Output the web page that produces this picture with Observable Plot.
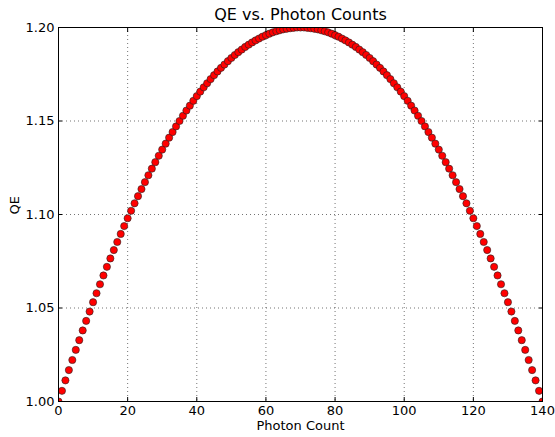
<!DOCTYPE html>
<html>
<head>
<meta charset="utf-8">
<script src="https://cdn.jsdelivr.net/npm/d3@7"></script>
<script src="https://cdn.jsdelivr.net/npm/@observablehq/plot@0.6"></script>
<style>
  html, body { margin: 0; padding: 0; background: #fff; }
  #chart { width: 555px; height: 437px; }
  svg { font-family: "DejaVu Sans", sans-serif; }
</style>
</head>
<body>
<div id="chart"></div>
<script>
const titleText = "QE vs. Photon Counts";
const xLabel = "Photon Count";
const yLabel = "QE";
const xTicks = [0, 20, 40, 60, 80, 100, 120, 140];
const yTicks = [1.00, 1.05, 1.10, 1.15, 1.20];

const photonCounts = [
  0,1,2,3,4,5,6,7,8,9,10,11,12,13,14,15,16,17,18,19,20,
  21,22,23,24,25,26,27,28,29,30,31,32,33,34,35,36,37,38,39,40,
  41,42,43,44,45,46,47,48,49,50,51,52,53,54,55,56,57,58,59,60,
  61,62,63,64,65,66,67,68,69,70,71,72,73,74,75,76,77,78,79,80,
  81,82,83,84,85,86,87,88,89,90,91,92,93,94,95,96,97,98,99,100,
  101,102,103,104,105,106,107,108,109,110,111,112,113,114,115,116,117,118,119,120,
  121,122,123,124,125,126,127,128,129,130,131,132,133,134,135,136,137,138,139,140
];
const qeValues = [
  1.0000,1.0057,1.0113,1.0168,1.0222,1.0276,1.0328,1.0380,1.0431,1.0481,1.0531,
  1.0579,1.0627,1.0674,1.0720,1.0765,1.0810,1.0853,1.0896,1.0938,1.0980,
  1.1020,1.1060,1.1098,1.1136,1.1173,1.1210,1.1245,1.1280,1.1314,1.1347,
  1.1379,1.1411,1.1441,1.1471,1.1500,1.1528,1.1556,1.1582,1.1608,1.1633,
  1.1657,1.1680,1.1702,1.1724,1.1745,1.1765,1.1784,1.1802,1.1820,1.1837,
  1.1853,1.1868,1.1882,1.1896,1.1908,1.1920,1.1931,1.1941,1.1951,1.1959,
  1.1967,1.1974,1.1980,1.1985,1.1990,1.1993,1.1996,1.1998,1.2000,1.2000,
  1.2000,1.1998,1.1996,1.1993,1.1990,1.1985,1.1980,1.1974,1.1967,1.1959,
  1.1951,1.1941,1.1931,1.1920,1.1908,1.1896,1.1882,1.1868,1.1853,1.1837,
  1.1820,1.1802,1.1784,1.1765,1.1745,1.1724,1.1702,1.1680,1.1657,1.1633,
  1.1608,1.1582,1.1556,1.1528,1.1500,1.1471,1.1441,1.1411,1.1379,1.1347,
  1.1314,1.1280,1.1245,1.1210,1.1173,1.1136,1.1098,1.1060,1.1020,1.0980,
  1.0938,1.0896,1.0853,1.0810,1.0765,1.0720,1.0674,1.0627,1.0579,1.0531,
  1.0481,1.0431,1.0380,1.0328,1.0276,1.0222,1.0168,1.0113,1.0057,1.0000
];

const data = photonCounts.map((x, i) => ({x, y: qeValues[i]}));

const chart = Plot.plot({
  width: 555,
  height: 437,
  marginLeft: 58,
  marginRight: 13,
  marginTop: 27,
  marginBottom: 36,
  style: {fontFamily: "DejaVu Sans, sans-serif", fontSize: "13px", color: "#000", background: "#fff"},
  x: {domain: [0, 140]},
  y: {domain: [1.0, 1.2]},
  marks: [
    Plot.gridX(xTicks, {stroke: "#000", strokeOpacity: 0.55, strokeDasharray: "1,3"}),
    Plot.gridY(yTicks, {stroke: "#000", strokeOpacity: 0.55, strokeDasharray: "1,3"}),
    Plot.dot(data, {x: "x", y: "y", r: 3.6, fill: "#ff0000", stroke: "#222", strokeWidth: 0.6, clip: true}),
    Plot.axisX(xTicks, {anchor: "bottom", tickSize: -4, tickPadding: 8, label: null, fontSize: 13}),
    Plot.axisX(xTicks, {anchor: "top", tickSize: -4, tickFormat: () => "", label: null}),
    Plot.axisY(yTicks, {anchor: "left", tickSize: -4, tickPadding: 8, tickFormat: d3.format(".2f"), label: null, fontSize: 13}),
    Plot.axisY(yTicks, {anchor: "right", tickSize: -4, tickFormat: () => "", label: null}),
    Plot.frame({stroke: "#000", strokeWidth: 1}),
    Plot.text([titleText], {frameAnchor: "top", dy: -13, lineAnchor: "middle", fontSize: 16, fill: "#000"}),
    Plot.text([xLabel], {frameAnchor: "bottom", dy: 24, lineAnchor: "middle", fontSize: 13, fill: "#000"}),
    Plot.text([yLabel], {frameAnchor: "left", dx: -44, lineAnchor: "middle", rotate: -90, fontSize: 13, fill: "#000"})
  ]
});
document.getElementById("chart").appendChild(chart);
</script>
</body>
</html>
